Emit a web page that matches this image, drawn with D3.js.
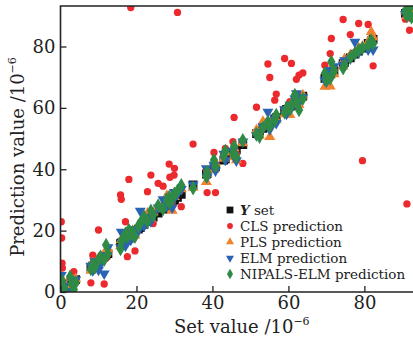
<!DOCTYPE html>
<html><head><meta charset="utf-8">
<script src="https://cdn.jsdelivr.net/npm/d3@7/dist/d3.min.js"></script>
<style>
html,body{margin:0;padding:0;background:#fff;}
svg{display:block;}
text{font-family:"DejaVu Serif","Liberation Serif",serif;fill:#222;}
</style></head>
<body><svg id="chart" width="413" height="339"></svg>
<script>
// Set values (x) for each sample
const setValues = [
 0.2,0.3,0.4,0.5,1.0,2.5,3.0,3.5,4.0,
 8.0,8.5,9.0,10.0,10.5,11.5,12.0,12.5,
 15.8,16.0,16.5,17.1,17.6,18.0,18.5,19.0,19.6,20.5,
 21.0,22.0,22.9,23.8,24.4,25.7,27.0,28.0,28.6,28.8,29.4,29.9,30.0,30.8,31.8,
 34.9,
 38.4,38.6,40.4,40.8,43.0,43.4,45.4,45.7,46.3,48.0,
 51.6,52.4,53.3,54.6,55.1,56.4,56.8,
 59.0,59.5,60.4,60.8,61.7,62.1,62.8,63.8,
 69.6,70.0,71.0,71.3,72.0,74.4,74.8,
 76.3,77.5,78.5,79.5,81.0,81.8,82.3,
 90.8,91.2,91.9,92.4
];
// Y set (reference values)
const ySet = setValues.slice();
// CLS predictions
const clsPred = [
 22.9,17.6,9.4,7.8,2.0,1.0,5.0,6.6,3.5,
 3.0,12.0,9.0,20.2,10.0,2.6,11.0,12.5,
 31.6,30.2,16.0,22.9,11.5,36.7,92.7,19.0,13.4,21.0,
 21.5,24.0,32.7,38.1,22.3,35.4,34.5,28.0,41.7,37.4,29.0,38.1,40.3,91.1,27.8,
 48.2,
 39.7,32.4,45.5,32.4,44.0,46.8,49.0,56.9,45.0,41.9,
 60.2,52.0,53.5,74.3,69.9,62.5,64.5,
 76.1,58.0,62.0,74.5,62.5,69.3,70.7,71.4,
 73.9,70.5,77.7,82.6,72.5,88.8,75.0,
 83.9,78.0,87.5,42.8,87.2,82.0,73.7,
 88.9,28.7,85.3,89.1
];
// PLS predictions
const plsPred = [
 1.5,0.5,2.5,0.0,3.0,4.5,2.0,3.8,4.2,
 7.0,9.5,8.0,11.0,10.0,12.5,13.0,14.0,
 15.0,17.0,15.5,18.0,19.5,17.0,18.0,20.0,18.5,21.5,
 22.0,23.5,25.6,24.0,26.0,27.0,28.5,31.4,29.0,30.0,26.5,32.0,31.0,33.0,33.5,
 34.0,
 35.9,38.5,40.0,42.0,43.5,45.5,44.0,47.0,43.0,48.5,
 52.8,51.0,55.5,54.0,50.6,57.0,56.0,
 58.0,59.0,57.7,61.5,62.5,63.0,61.0,64.2,
 66.9,70.5,67.0,73.0,71.0,73.5,76.0,
 77.2,78.0,79.5,80.0,81.5,84.8,83.0,
 91.5,90.0,92.0,91.0
];
// ELM predictions
const elmPred = [
 5.5,3.0,1.0,0.5,2.0,0.3,3.5,2.0,4.0,
 8.5,7.0,10.0,7.2,9.0,6.0,12.0,14.5,
 14.5,19.6,16.0,15.0,17.5,19.0,17.0,18.0,20.5,20.0,
 26.4,21.5,24.5,23.0,25.5,27.5,30.2,28.0,29.5,31.0,27.5,30.5,32.5,32.0,33.5,
 35.0,
 40.3,37.5,41.4,39.5,45.0,43.0,46.0,44.5,42.8,49.0,
 51.0,52.2,54.0,58.7,53.0,56.5,55.0,
 59.5,58.0,61.0,60.0,63.0,64.7,62.0,63.5,
 69.0,68.5,72.3,71.0,73.5,74.0,75.5,
 76.0,81.5,78.0,79.5,79.0,80.5,79.0,
 90.5,91.0,92.5,90.0
];
// NIPALS-ELM predictions
const nipPred = [
 2.0,0.8,3.5,0.5,1.2,5.0,2.5,0.8,3.0,
 7.5,9.0,8.0,10.5,11.5,10.5,15.3,12.5,
 14.0,16.5,17.5,19.0,18.0,20.2,19.0,19.5,18.0,21.5,
 22.5,24.5,23.0,26.5,25.0,28.2,27.0,30.0,31.0,29.0,30.5,31.5,32.0,33.0,34.8,
 33.8,
 37.6,39.0,43.0,41.0,44.5,46.0,45.2,47.5,44.0,49.5,
 51.5,50.6,53.5,55.5,54.0,56.0,57.7,
 58.5,60.0,59.5,61.0,64.2,62.0,59.3,63.0,
 71.3,69.0,69.6,75.0,72.0,72.9,74.0,
 76.5,77.7,78.8,79.5,80.4,82.0,81.0,
 91.5,90.0,92.5,89.5
];
const xTicks = [0,20,40,60,80];
const yTicks = [0,20,40,60,80];
const seriesNames = ["Y set","CLS prediction","PLS prediction","ELM prediction","NIPALS-ELM prediction"];
const seriesColors = ["#111111","#ec2a2d","#f0822e","#2a63b2","#2f8a45"];

const svg = d3.select("#chart");
const L = 60.5, R = 413, T = 6, B = 292;
const x = d3.scaleLinear().domain([0, 92.8]).range([L, R]);
const y = d3.scaleLinear().domain([0, 93.2]).range([B, T]);

svg.append("defs").append("clipPath").attr("id","clip")
  .append("rect").attr("x",L).attr("y",T).attr("width",R-L).attr("height",B-T);

const plot = svg.append("g").attr("clip-path","url(#clip)");

const sym = {
  square: d3.symbol().type(d3.symbolSquare).size(76),
  circle: d3.symbol().type(d3.symbolCircle).size(42),
  triUp: d3.symbol().type(d3.symbolTriangle).size(52),
  diamond: d3.symbol().type(d3.symbolDiamond).size(60)
};

const series = [
  {vals: ySet, path: sym.square(), rot: 0},
  {vals: clsPred, path: sym.circle(), rot: 0},
  {vals: plsPred, path: sym.triUp(), rot: 0},
  {vals: elmPred, path: sym.triUp(), rot: 180},
  {vals: nipPred, path: sym.diamond(), rot: 0}
];

series.forEach((s, i) => {
  plot.append("g").selectAll("path").data(setValues.map((v, k) => [v, s.vals[k]]))
    .join("path")
    .attr("d", s.path)
    .attr("fill", seriesColors[i])
    .attr("transform", d => `translate(${x(d[0])},${y(d[1])})` + (s.rot ? ` rotate(${s.rot})` : ""));
});

// Axes
const axisColor = "#222";
const xAxis = d3.axisBottom(x).tickValues(xTicks).tickSize(-6).tickPadding(4).tickFormat(d3.format("d"));
const gx = svg.append("g").attr("transform", `translate(0,${B})`).call(xAxis);
const yAxis = d3.axisLeft(y).tickValues(yTicks).tickSize(-6).tickPadding(5).tickFormat(d3.format("d"));
const gy = svg.append("g").attr("transform", `translate(${L},0)`).call(yAxis);
[gx, gy].forEach(g => {
  g.select(".domain").remove();
  g.selectAll("line").attr("stroke", axisColor).attr("stroke-width", 1.3);
  g.selectAll("text").attr("font-size", 18).attr("fill", "#222")
    .style("font-family", '"DejaVu Serif","Liberation Serif",serif');
});
// Frame lines: left, bottom, top
svg.append("path")
  .attr("d", `M${R},${T}H${L}V${B}H${R}`)
  .attr("fill","none").attr("stroke",axisColor).attr("stroke-width",1.6);

// Axis titles
const xt = svg.append("text").attr("x", (L+R)/2 + 5).attr("y", 333).attr("text-anchor","middle").attr("font-size", 18);
xt.append("tspan").text("Set value /10");
xt.append("tspan").attr("font-size", 11).attr("dy", -8).text("\u22126");

const yt = svg.append("text").attr("transform", `translate(24,${157}) rotate(-90)`).attr("text-anchor","middle").attr("font-size", 18);
yt.append("tspan").text("Prediction value /10");
yt.append("tspan").attr("font-size", 11).attr("dy", -8).text("\u22126");

// Legend
const lg = svg.append("g").attr("transform","translate(230,210)");
const legSyms = [
  d3.symbol().type(d3.symbolSquare).size(46)(),
  d3.symbol().type(d3.symbolCircle).size(26)(),
  d3.symbol().type(d3.symbolTriangle).size(28)(),
  d3.symbol().type(d3.symbolTriangle).size(28)(),
  d3.symbol().type(d3.symbolDiamond).size(32)()
];
seriesNames.forEach((name, i) => {
  const row = lg.append("g").attr("transform", `translate(0,${i*16})`);
  row.append("path").attr("d", legSyms[i]).attr("fill", seriesColors[i])
    .attr("transform", i === 3 ? "rotate(180)" : null);
  const t = row.append("text").attr("x", 10).attr("y", 5).attr("font-size", 13.5);
  if (i === 0) {
    t.append("tspan").attr("font-weight","bold").attr("font-style","italic").text("Y");
    t.append("tspan").text(" set");
  } else {
    t.text(name);
  }
});
</script>
</body></html>
